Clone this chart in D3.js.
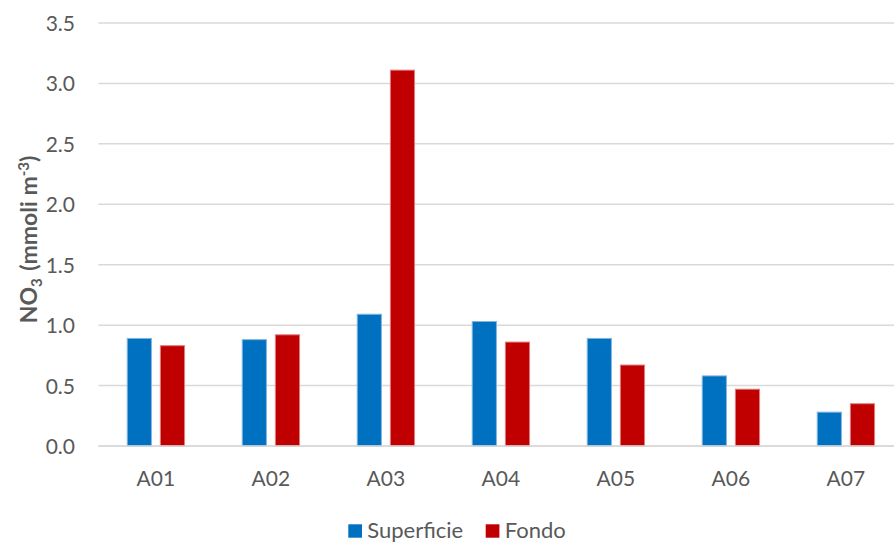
<!DOCTYPE html>
<html>
<head>
<meta charset="utf-8">
<script src="https://cdn.jsdelivr.net/npm/d3@7/dist/d3.min.js"></script>
<style>
  html, body { margin: 0; padding: 0; background: #fff; }
  svg { display: block; font-family: Lato, "Open Sans", sans-serif; }
</style>
</head>
<body>
<svg id="chart" width="894" height="542"></svg>
<script>
// Nitrate concentration by station, surface vs bottom
const stations = ["A01", "A02", "A03", "A04", "A05", "A06", "A07"];
const superficie = [0.89, 0.88, 1.09, 1.03, 0.89, 0.58, 0.28];
const fondo = [0.83, 0.92, 3.11, 0.86, 0.67, 0.47, 0.35];
const yTicks = [0, 0.5, 1.0, 1.5, 2.0, 2.5, 3.0, 3.5];
const seriesNames = ["Superficie", "Fondo"];
const seriesColors = ["#0070c0", "#c00000"];
const seriesStroke = ["#7fb5df", "#df7f7f"];

const svg = d3.select("#chart");
const plot = { left: 98.4, right: 903.4, top: 23, bottom: 446 };
const textColor = "#595959";

const x = d3.scaleBand().domain(stations).range([plot.left, plot.right]).paddingInner(0.493).paddingOuter(0.2465);
const xs = d3.scaleBand().domain(seriesNames).range([0, x.bandwidth()]).paddingInner(0.24);
const y = d3.scaleLinear().domain([0, 3.5]).range([plot.bottom, plot.top]);

// gridlines
svg.append("g").selectAll("line").data(yTicks).join("line")
  .attr("x1", plot.left).attr("x2", plot.right)
  .attr("y1", d => y(d)).attr("y2", d => y(d))
  .attr("stroke", "#d9d9d9").attr("stroke-width", 1.5);

// y axis labels
const yAxis = d3.axisLeft(y).tickValues(yTicks).tickFormat(d3.format(".1f")).tickSize(0).tickPadding(0);
const gy = svg.append("g").attr("transform", "translate(75,0)").call(yAxis);
gy.select(".domain").remove();
gy.selectAll("text").attr("font-size", 21).attr("fill", textColor)
  .attr("font-family", "Lato, 'Open Sans', sans-serif").attr("dy", "0.36em");

// bars
const rows = stations.map((s, i) => ({ station: s, values: [superficie[i], fondo[i]] }));
const groups = svg.append("g").selectAll("g").data(rows).join("g")
  .attr("transform", d => `translate(${x(d.station)},0)`);
groups.selectAll("rect").data(d => d.values.map((v, k) => ({ v, k }))).join("rect")
  .attr("x", d => xs(seriesNames[d.k]) + 0.5)
  .attr("width", xs.bandwidth() - 1)
  .attr("y", d => y(d.v))
  .attr("height", d => y(0) - y(d.v))
  .attr("fill", d => seriesColors[d.k])
  .attr("stroke", d => seriesStroke[d.k])
  .attr("stroke-width", 1);

// baseline
svg.append("line").attr("x1", plot.left).attr("x2", plot.right)
  .attr("y1", y(0)).attr("y2", y(0)).attr("stroke", "#d9d9d9").attr("stroke-width", 1.5);

// x axis labels
const xAxis = d3.axisBottom(x).tickSize(0).tickPadding(0);
const gx = svg.append("g").attr("transform", `translate(0,${plot.bottom})`).call(xAxis);
gx.select(".domain").remove();
gx.selectAll("text").attr("font-size", 21).attr("fill", textColor)
  .attr("font-family", "Lato, 'Open Sans', sans-serif")
  .attr("y", 40).attr("dy", null);

// y axis title
const title = svg.append("text")
  .attr("transform", `translate(37,${(plot.top + plot.bottom) / 2 + 5}) rotate(-90)`)
  .attr("text-anchor", "middle")
  .attr("font-size", 23).attr("font-weight", "bold").attr("fill", textColor);
title.append("tspan").text("NO");
title.append("tspan").text("3").attr("font-size", 15).attr("dy", 5);
title.append("tspan").text("\u00a0(mmoli m").attr("dy", -5).attr("dx", 2);
title.append("tspan").text("-3").attr("font-size", 15).attr("dy", -8);
title.append("tspan").text(")").attr("dy", 8);

// legend
const legend = svg.append("g").attr("transform", "translate(348.3,537.7)");
const itemX = [0, 137.4];
seriesNames.forEach((name, i) => {
  const g = legend.append("g").attr("transform", `translate(${itemX[i]},0)`);
  g.append("rect").attr("x", 0).attr("y", -13.4).attr("width", 13.7).attr("height", 13.4).attr("fill", seriesColors[i]);
  g.append("text").attr("x", 19).attr("y", 0).attr("font-size", 22).attr("fill", textColor).text(name);
});
</script>
</body>
</html>
